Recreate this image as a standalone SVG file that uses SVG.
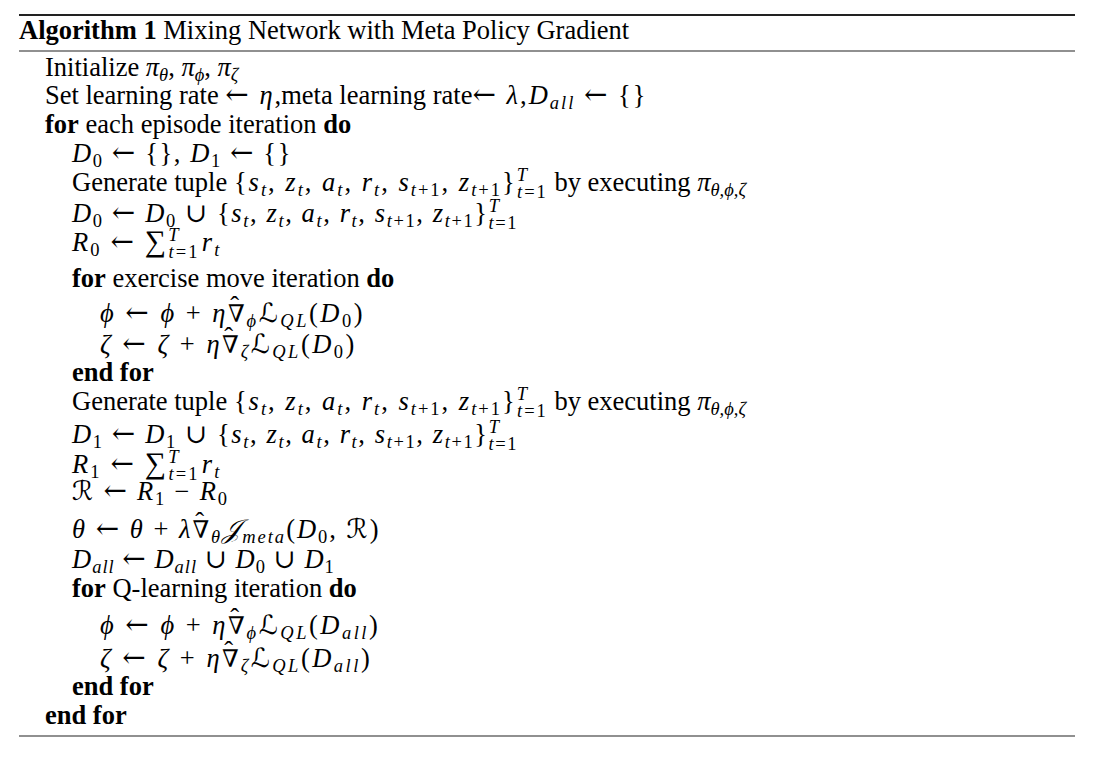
<svg xmlns="http://www.w3.org/2000/svg" width="1094" height="759" viewBox="0 0 1094 759">
<style>
.t{font-family:"Liberation Serif","DejaVu Serif",serif;font-size:26.5px;fill:#000}
.b{font-weight:bold}
.m{font-style:italic}
.s{font-size:18.5px}
.ar{font-family:"DejaVu Serif",serif;font-style:normal;font-size:28px}
.n{font-family:"DejaVu Serif",serif;font-style:normal;font-size:24px}
.cal{font-family:"DejaVu Serif","DejaVu Sans",serif;font-style:italic}
.sum{font-size:30px}
.mx{letter-spacing:2px}
.m1{letter-spacing:1px}
.l17{letter-spacing:1.8px}
.l16{letter-spacing:1.6px}
.l23{letter-spacing:2.1px}
.l25{letter-spacing:2.5px}
.rule{stroke:#222}
</style>
<rect width="1094" height="759" fill="#fff"/>
<g id="rules">
<line class="rule" x1="19" y1="15" x2="1075" y2="15" stroke-width="2"/>
<line class="rule" x1="19" y1="51" x2="1075" y2="51" stroke-width="1.2"/>
<line class="rule" x1="19" y1="736" x2="1075" y2="736" stroke-width="1.2"/>
</g>
<g id="title"><text class="t" x="19" y="39"><tspan class="b">Algorithm 1</tspan> Mixing Network with Meta Policy Gradient</text></g>
<g id="body">
<text class="t" x="45" y="76">Initialize <tspan class="m">π</tspan><tspan class="s m" dy="5">θ</tspan><tspan dy="-5">, </tspan><tspan class="m">π</tspan><tspan class="s m" dy="5">ϕ</tspan><tspan dy="-5">, </tspan><tspan class="m">π</tspan><tspan class="s m" dy="5">ζ</tspan></text>
<text class="t" x="45" y="104">Set learning rate <tspan class="mx"><tspan class="ar">←</tspan> <tspan class="m">η</tspan></tspan>,meta learning rate<tspan class="mx"><tspan class="ar">←</tspan> <tspan class="m">λ</tspan>,<tspan class="m">D</tspan><tspan class="s m" dy="5">all</tspan><tspan dy="-5"> </tspan><tspan class="ar">←</tspan> {}</tspan></text>
<text class="t" x="45" y="133"><tspan class="b">for</tspan> each episode iteration <tspan class="b">do</tspan></text>
<text class="t l16" x="72" y="162"><tspan class="m">D</tspan><tspan class="s" dy="5">0</tspan><tspan dy="-5"> </tspan><tspan class="ar">←</tspan> {}, <tspan class="m">D</tspan><tspan class="s" dy="5">1</tspan><tspan dy="-5"> </tspan><tspan class="ar">←</tspan> {}</text>
<text class="t" x="72" y="191">Generate tuple <tspan class="mx">{<tspan class="m">s</tspan><tspan class="s m" dy="5">t</tspan><tspan dy="-5">, </tspan><tspan class="m">z</tspan><tspan class="s m" dy="5">t</tspan><tspan dy="-5">, </tspan><tspan class="m">a</tspan><tspan class="s m" dy="5">t</tspan><tspan dy="-5">, </tspan><tspan class="m">r</tspan><tspan class="s m" dy="5">t</tspan><tspan dy="-5">, </tspan><tspan class="m">s</tspan><tspan class="s" dy="5"><tspan class="m">t</tspan>+1</tspan><tspan dy="-5">, </tspan><tspan class="m">z</tspan><tspan class="s" dy="5"><tspan class="m">t</tspan>+1</tspan><tspan dy="-5">}</tspan><tspan class="s m" dy="-10">T</tspan><tspan class="s" dx="-12" dy="17"><tspan class="m">t</tspan>=1</tspan></tspan><tspan dy="-7"> by executing </tspan><tspan class="m">π</tspan><tspan class="s m" dy="5">θ,ϕ,ζ</tspan></text>
<text class="t l16" x="72" y="222"><tspan class="m">D</tspan><tspan class="s" dy="5">0</tspan><tspan dy="-5"> </tspan><tspan class="ar">←</tspan> <tspan class="m">D</tspan><tspan class="s" dy="5">0</tspan><tspan dy="-5"> ∪ {</tspan><tspan class="m">s</tspan><tspan class="s m" dy="5">t</tspan><tspan dy="-5">, </tspan><tspan class="m">z</tspan><tspan class="s m" dy="5">t</tspan><tspan dy="-5">, </tspan><tspan class="m">a</tspan><tspan class="s m" dy="5">t</tspan><tspan dy="-5">, </tspan><tspan class="m">r</tspan><tspan class="s m" dy="5">t</tspan><tspan dy="-5">, </tspan><tspan class="m">s</tspan><tspan class="s" dy="5"><tspan class="m">t</tspan>+1</tspan><tspan dy="-5">, </tspan><tspan class="m">z</tspan><tspan class="s" dy="5"><tspan class="m">t</tspan>+1</tspan><tspan dy="-5">}</tspan><tspan class="s m" dy="-10">T</tspan><tspan class="s" dx="-12" dy="17"><tspan class="m">t</tspan>=1</tspan></text>
<text class="t l23" x="72" y="251"><tspan class="m">R</tspan><tspan class="s" dy="5">0</tspan><tspan dy="-5"> </tspan><tspan class="ar">←</tspan> <tspan class="sum">∑</tspan><tspan class="s m" dy="-10">T</tspan><tspan class="s" dx="-12" dy="17"><tspan class="m">t</tspan>=1</tspan><tspan class="m" dx="2" dy="-7">r</tspan><tspan class="s m" dy="5">t</tspan></text>
<text class="t" x="72" y="287"><tspan class="b">for</tspan> exercise move iteration <tspan class="b">do</tspan></text>
<text class="t l25" x="100" y="322"><tspan class="m">ϕ</tspan> <tspan class="ar">←</tspan> <tspan class="m">ϕ</tspan> + <tspan class="m">η</tspan><tspan class="n">∇</tspan><tspan dx="-17" dy="-7">ˆ</tspan><tspan class="s m" dx="5" dy="12">ϕ</tspan><tspan class="cal" dy="-5">ℒ</tspan><tspan class="s m" dy="5">QL</tspan><tspan dy="-5">(</tspan><tspan class="m">D</tspan><tspan class="s" dy="5">0</tspan><tspan dy="-5">)</tspan></text>
<text class="t l25" x="100" y="353"><tspan class="m">ζ</tspan> <tspan class="ar">←</tspan> <tspan class="m">ζ</tspan> + <tspan class="m">η</tspan><tspan class="n">∇</tspan><tspan dx="-17" dy="-7">ˆ</tspan><tspan class="s m" dx="5" dy="12">ζ</tspan><tspan class="cal" dy="-5">ℒ</tspan><tspan class="s m" dy="5">QL</tspan><tspan dy="-5">(</tspan><tspan class="m">D</tspan><tspan class="s" dy="5">0</tspan><tspan dy="-5">)</tspan></text>
<text class="t b" x="72" y="381">end for</text>
<text class="t" x="72" y="410">Generate tuple <tspan class="mx">{<tspan class="m">s</tspan><tspan class="s m" dy="5">t</tspan><tspan dy="-5">, </tspan><tspan class="m">z</tspan><tspan class="s m" dy="5">t</tspan><tspan dy="-5">, </tspan><tspan class="m">a</tspan><tspan class="s m" dy="5">t</tspan><tspan dy="-5">, </tspan><tspan class="m">r</tspan><tspan class="s m" dy="5">t</tspan><tspan dy="-5">, </tspan><tspan class="m">s</tspan><tspan class="s" dy="5"><tspan class="m">t</tspan>+1</tspan><tspan dy="-5">, </tspan><tspan class="m">z</tspan><tspan class="s" dy="5"><tspan class="m">t</tspan>+1</tspan><tspan dy="-5">}</tspan><tspan class="s m" dy="-10">T</tspan><tspan class="s" dx="-12" dy="17"><tspan class="m">t</tspan>=1</tspan></tspan><tspan dy="-7"> by executing </tspan><tspan class="m">π</tspan><tspan class="s m" dy="5">θ,ϕ,ζ</tspan></text>
<text class="t l16" x="72" y="443"><tspan class="m">D</tspan><tspan class="s" dy="5">1</tspan><tspan dy="-5"> </tspan><tspan class="ar">←</tspan> <tspan class="m">D</tspan><tspan class="s" dy="5">1</tspan><tspan dy="-5"> ∪ {</tspan><tspan class="m">s</tspan><tspan class="s m" dy="5">t</tspan><tspan dy="-5">, </tspan><tspan class="m">z</tspan><tspan class="s m" dy="5">t</tspan><tspan dy="-5">, </tspan><tspan class="m">a</tspan><tspan class="s m" dy="5">t</tspan><tspan dy="-5">, </tspan><tspan class="m">r</tspan><tspan class="s m" dy="5">t</tspan><tspan dy="-5">, </tspan><tspan class="m">s</tspan><tspan class="s" dy="5"><tspan class="m">t</tspan>+1</tspan><tspan dy="-5">, </tspan><tspan class="m">z</tspan><tspan class="s" dy="5"><tspan class="m">t</tspan>+1</tspan><tspan dy="-5">}</tspan><tspan class="s m" dy="-10">T</tspan><tspan class="s" dx="-12" dy="17"><tspan class="m">t</tspan>=1</tspan></text>
<text class="t l23" x="72" y="473"><tspan class="m">R</tspan><tspan class="s" dy="5">1</tspan><tspan dy="-5"> </tspan><tspan class="ar">←</tspan> <tspan class="sum">∑</tspan><tspan class="s m" dy="-10">T</tspan><tspan class="s" dx="-12" dy="17"><tspan class="m">t</tspan>=1</tspan><tspan class="m" dx="2" dy="-7">r</tspan><tspan class="s m" dy="5">t</tspan></text>
<text class="t l17" x="72" y="500"><tspan class="cal">ℛ</tspan> <tspan class="ar">←</tspan> <tspan class="m">R</tspan><tspan class="s" dy="5">1</tspan><tspan dy="-5"> − </tspan><tspan class="m">R</tspan><tspan class="s" dy="5">0</tspan></text>
<text class="t mx" x="72" y="538"><tspan class="m">θ</tspan> <tspan class="ar">←</tspan> <tspan class="m">θ</tspan> + <tspan class="m">λ</tspan><tspan class="n">∇</tspan><tspan dx="-16" dy="-7">ˆ</tspan><tspan class="s m" dx="5" dy="12">θ</tspan><tspan class="cal" dy="-5">𝒥</tspan><tspan class="s m" dy="5">meta</tspan><tspan dy="-5">(</tspan><tspan class="m">D</tspan><tspan class="s" dy="5">0</tspan><tspan dy="-5">, </tspan><tspan class="cal">ℛ</tspan>)</text>
<text class="t m1" x="72" y="568"><tspan class="m">D</tspan><tspan class="s m" dy="5">all</tspan><tspan dy="-5"> </tspan><tspan class="ar">←</tspan> <tspan class="m">D</tspan><tspan class="s m" dy="5">all</tspan><tspan dy="-5"> ∪ </tspan><tspan class="m">D</tspan><tspan class="s" dy="5">0</tspan><tspan dy="-5"> ∪ </tspan><tspan class="m">D</tspan><tspan class="s" dy="5">1</tspan></text>
<text class="t" x="72" y="597"><tspan class="b">for</tspan> Q-learning iteration <tspan class="b">do</tspan></text>
<text class="t l25" x="100" y="634"><tspan class="m">ϕ</tspan> <tspan class="ar">←</tspan> <tspan class="m">ϕ</tspan> + <tspan class="m">η</tspan><tspan class="n">∇</tspan><tspan dx="-17" dy="-7">ˆ</tspan><tspan class="s m" dx="5" dy="12">ϕ</tspan><tspan class="cal" dy="-5">ℒ</tspan><tspan class="s m" dy="5">QL</tspan><tspan dy="-5">(</tspan><tspan class="m">D</tspan><tspan class="s m" dy="5">all</tspan><tspan dy="-5">)</tspan></text>
<text class="t l25" x="100" y="667"><tspan class="m">ζ</tspan> <tspan class="ar">←</tspan> <tspan class="m">ζ</tspan> + <tspan class="m">η</tspan><tspan class="n">∇</tspan><tspan dx="-17" dy="-7">ˆ</tspan><tspan class="s m" dx="5" dy="12">ζ</tspan><tspan class="cal" dy="-5">ℒ</tspan><tspan class="s m" dy="5">QL</tspan><tspan dy="-5">(</tspan><tspan class="m">D</tspan><tspan class="s m" dy="5">all</tspan><tspan dy="-5">)</tspan></text>
<text class="t b" x="72" y="695">end for</text>
<text class="t b" x="45" y="724">end for</text>
</g>
</svg>
